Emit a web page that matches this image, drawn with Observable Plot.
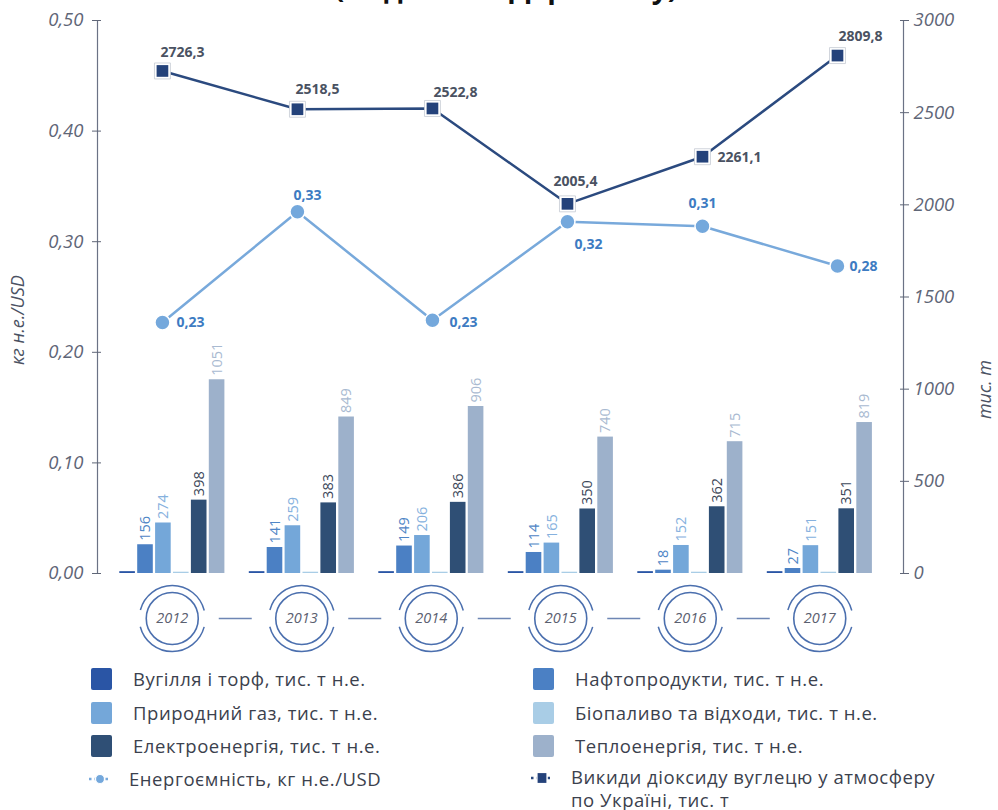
<!DOCTYPE html>
<html><head><meta charset="utf-8">
<script src="https://cdn.jsdelivr.net/npm/d3@7"></script>
<script src="https://cdn.jsdelivr.net/npm/@observablehq/plot@0.6"></script>
<style>
body{margin:0;background:#fff;font-family:"Open Sans",sans-serif;}
#wrap{position:relative;width:998px;height:810px;overflow:hidden;background:#fff;}
#title{position:absolute;left:0;width:1012px;top:-27px;line-height:28px;text-align:center;font-weight:bold;font-size:28px;color:#111;white-space:nowrap;}
#base,#over{position:absolute;left:0;top:0;}
.item{position:absolute;display:flex;align-items:center;font-size:18.5px;letter-spacing:0.55px;color:#3b414d;line-height:23px;white-space:nowrap;}
.sw{width:21px;height:22px;border-radius:2px;margin-right:21px;flex:none;}
.ic{margin-right:17px;flex:none;}
</style>
</head><body>
<div id="wrap">
  <div id="title">(за даними Держстату)</div>
  <div id="base"></div>
  <div id="over"></div>
  <div id="legend"></div>
</div>
<script>
// ---------- data ----------
const years = [2012, 2013, 2014, 2015, 2016, 2017];
const seriesNames = [
  "Вугілля і торф, тис. т н.е.",
  "Нафтопродукти, тис. т н.е.",
  "Природний газ, тис. т н.е.",
  "Біопаливо та відходи, тис. т н.е.",
  "Електроенергія, тис. т н.е.",
  "Теплоенергія, тис. т н.е."
];
const coal = [10, 10, 10, 10, 10, 10];
const oil = [156, 141, 149, 114, 18, 27];
const gas = [274, 259, 206, 165, 152, 151];
const bio = [7, 7, 7, 7, 7, 7];
const electricity = [398, 383, 386, 350, 362, 351];
const heat = [1051, 849, 906, 740, 715, 819];
const intensityName = "Енергоємність, кг н.е./USD";
const intensity = [0.227, 0.327, 0.229, 0.318, 0.314, 0.278];
const co2Name = "Викиди діоксиду вуглецю у атмосферу<br>по Україні, тис. т";
const co2 = [2726.3, 2518.5, 2522.8, 2005.4, 2261.1, 2809.8];
const leftTicks = [0, 0.1, 0.2, 0.3, 0.4, 0.5];
const rightTicks = [0, 500, 1000, 1500, 2000, 2500, 3000];
const leftTitle = "кг н.е./USD";
const rightTitle = "тис. т";

// ---------- styles ----------
const seriesColors = ["#2a55a5", "#4b80c4", "#74a7d9", "#a9cde6", "#2f4f75", "#9db1cb"];
const labelColors = [null, "#4f86c6", "#86b1de", null, "#3c4759", "#a9bad1"];
const intensityColor = "#78a9db", co2Color = "#2b4a7f";
const axisColor = "#5f6677";
const FONT = "Open Sans";

const W = 998, H = 660, mT = 20, mB = 87, mL = 97, mR = 95;
const bandRange = [107, 884];
const step = (bandRange[1] - bandRange[0]) / years.length;
const groupPad = 12.3, slot = 17.9, barW = 15.6;
const ratio = 3000 / 0.5; // left axis -> right axis

const seriesValues = [coal, oil, gas, bio, electricity, heat];
const rows = years.flatMap((yr, j) => seriesValues.map((vals, i) => ({year: yr, i, value: vals[j]})));

// ---------- base plot: bars + year badges ----------
const baseMarks = [];
seriesValues.forEach((vals, i) => {
  const L = groupPad + i * slot;
  const data = rows.filter(r => r.i === i);
  baseMarks.push(Plot.barY(data, {x: "year", y: "value", fill: seriesColors[i],
    insetLeft: L, insetRight: step - L - barW}));
  if (labelColors[i]) {
    baseMarks.push(Plot.text(data, {x: "year", y: "value", text: d => String(d.value),
      rotate: -90, textAnchor: "start", dx: L + barW / 2 - step / 2, dy: -4,
      fill: labelColors[i], fontSize: 14.5}));
  }
});
baseMarks.push(
  Plot.tickY(years.slice(0, -1), {x: d => d, y: d => 0, dy: 45, dx: step / 2,
    insetLeft: 47, insetRight: step - 80, stroke: "#6e86b4", strokeWidth: 1.5}),
  Plot.dot(years, {x: d => d, y: d => 0, dy: 45, r: 33, fill: "none", stroke: "#4b6fae",
    strokeWidth: 1.5, strokeDasharray: "86.7 17", strokeDashoffset: 95.2}),
  Plot.dot(years, {x: d => d, y: d => 0, dy: 45, r: 26, fill: "white", stroke: "#4b6fae", strokeWidth: 1.6}),
  Plot.text(years, {x: d => d, y: d => 0, dy: 45, text: d => String(d), fontStyle: "italic",
    fontSize: 14.5, fill: "#5b6070"})
);

const base = Plot.plot({
  width: W, height: H, marginTop: mT, marginBottom: mB, marginLeft: mL, marginRight: mR,
  style: {fontFamily: FONT, background: "transparent", overflow: "visible"},
  x: {type: "band", domain: years, range: bandRange, padding: 0, round: false, axis: null},
  y: {domain: [0, 3000], axis: null},
  marks: baseMarks
});
document.getElementById("base").appendChild(base);

// ---------- overlay plot: axes + lines ----------
const lineDomain = [2011.519, 2017.489];
const intData = years.map((yr, j) => ({year: yr, v: intensity[j]}));
const co2Data = years.map((yr, j) => ({year: yr, v: co2[j]}));
const co2Offsets = [[-2, -18, "start"], [-2, -20, "start"], [1, -16, "start"], [8, -22, "middle"], [15, 1, "start"], [1, -19, "start"]];
const intOffsets = [[14, 0, "start"], [10, -16, "middle"], [17, 2, "start"], [21, 23, "middle"], [0, -23, "middle"], [12, 0, "start"]];

const overMarks = [
  Plot.ruleX(lineDomain, {y1: 0, y2: 3000, stroke: "#6b7285", strokeWidth: 1.2}),
  Plot.axisY(leftTicks.map(t => t * ratio), {anchor: "left", tickSize: 5, tickPadding: 9,
    tickFormat: d => (d / ratio).toFixed(2).replace(".", ","), fontSize: 18.5, fontStyle: "italic",
    color: axisColor, label: null}),
  Plot.axisY(leftTicks.map(t => t * ratio), {anchor: "left", tickSize: -4, tickFormat: () => "",
    color: axisColor, label: null}),
  Plot.axisY(rightTicks, {anchor: "right", tickSize: 5, tickPadding: 5,
    tickFormat: d => String(d), fontSize: 18.5, fontStyle: "italic", color: axisColor, label: null}),
  Plot.axisY(rightTicks, {anchor: "right", tickSize: -4, tickFormat: () => "",
    color: axisColor, label: null}),
  Plot.text([leftTitle], {frameAnchor: "left", dx: -79, dy: 68, rotate: -90, fontStyle: "italic",
    fontSize: 18, fill: "#4b5263"}),
  Plot.text([rightTitle], {frameAnchor: "right", dx: 82, dy: 63, rotate: -90, fontStyle: "italic",
    fontSize: 18, fill: "#4b5263"}),
  Plot.line(intData, {x: "year", y: d => d.v * ratio, stroke: intensityColor, strokeWidth: 2.5}),
  Plot.line(co2Data, {x: "year", y: "v", stroke: co2Color, strokeWidth: 2.5}),
  Plot.dot(intData, {x: "year", y: d => d.v * ratio, r: 7.5, fill: "#74a8dc", stroke: "white", strokeWidth: 1.5}),
  Plot.dot(co2Data, {x: "year", y: "v", symbol: "square", r: 9, fill: "white", stroke: "#c5cad3", strokeWidth: 0.8}),
  Plot.dot(co2Data, {x: "year", y: "v", symbol: "square", r: 6.6, fill: "#24427a"})
];
co2Data.forEach((d, j) => {
  const [dx, dy, a] = co2Offsets[j];
  overMarks.push(Plot.text([d], {x: "year", y: "v", text: e => e.v.toFixed(1).replace(".", ","),
    dx, dy, textAnchor: a, fontWeight: "bold", fontSize: 14, fill: "#4a5262"}));
});
intData.forEach((d, j) => {
  const [dx, dy, a] = intOffsets[j];
  overMarks.push(Plot.text([d], {x: "year", y: e => e.v * ratio, text: e => e.v.toFixed(2).replace(".", ","),
    dx, dy, textAnchor: a, fontWeight: "bold", fontSize: 14, fill: "#3d7bc2"}));
});

const over = Plot.plot({
  width: W, height: H, marginTop: mT, marginBottom: mB, marginLeft: mL, marginRight: mR,
  style: {fontFamily: FONT, background: "transparent", overflow: "visible"},
  x: {type: "linear", domain: lineDomain, axis: null},
  y: {domain: [0, 3000], axis: null},
  marks: overMarks
});
document.getElementById("over").appendChild(over);

// ---------- legend ----------
const legend = document.getElementById("legend");
const rowsY = [679, 713, 746, 779];
const cols = [91, 533];
function addItem(col, row, iconHtml, text, isSwatch) {
  const div = document.createElement("div");
  div.className = "item";
  div.style.left = (cols[col] - (isSwatch ? 0 : 3)) + "px";
  div.style.top = (rowsY[row] - 12) + "px";
  div.innerHTML = iconHtml + '<span>' + text + '</span>';
  legend.appendChild(div);
  return div;
}
seriesNames.forEach((name, i) => {
  addItem(i % 2, Math.floor(i / 2), `<div class="sw" style="background:${seriesColors[i]}"></div>`, name, true);
});
const intIcon = `<svg class="ic" width="24" height="14" viewBox="0 0 24 14">
  <line x1="1" y1="7" x2="23" y2="7" stroke="${intensityColor}" stroke-width="2.5" stroke-dasharray="2.5 3"/>
  <circle cx="12" cy="7" r="4.5" fill="#74a8dc" stroke="white" stroke-width="1.2"/></svg>`;
const co2Icon = `<svg class="ic" width="24" height="14" viewBox="0 0 24 14">
  <line x1="1" y1="7" x2="23" y2="7" stroke="${co2Color}" stroke-width="2.5" stroke-dasharray="2.5 3"/>
  <rect x="7" y="1.5" width="10" height="11" fill="#24427a" stroke="white" stroke-width="1.2"/></svg>`;
addItem(0, 3, intIcon, intensityName, false);
const last = addItem(1, 3, co2Icon, co2Name, false);
last.style.alignItems = "flex-start";
last.style.top = (rowsY[3] - 13) + "px";
last.style.lineHeight = "22.5px";
last.querySelector("svg").style.marginTop = "5px";
</script>
</body></html>
